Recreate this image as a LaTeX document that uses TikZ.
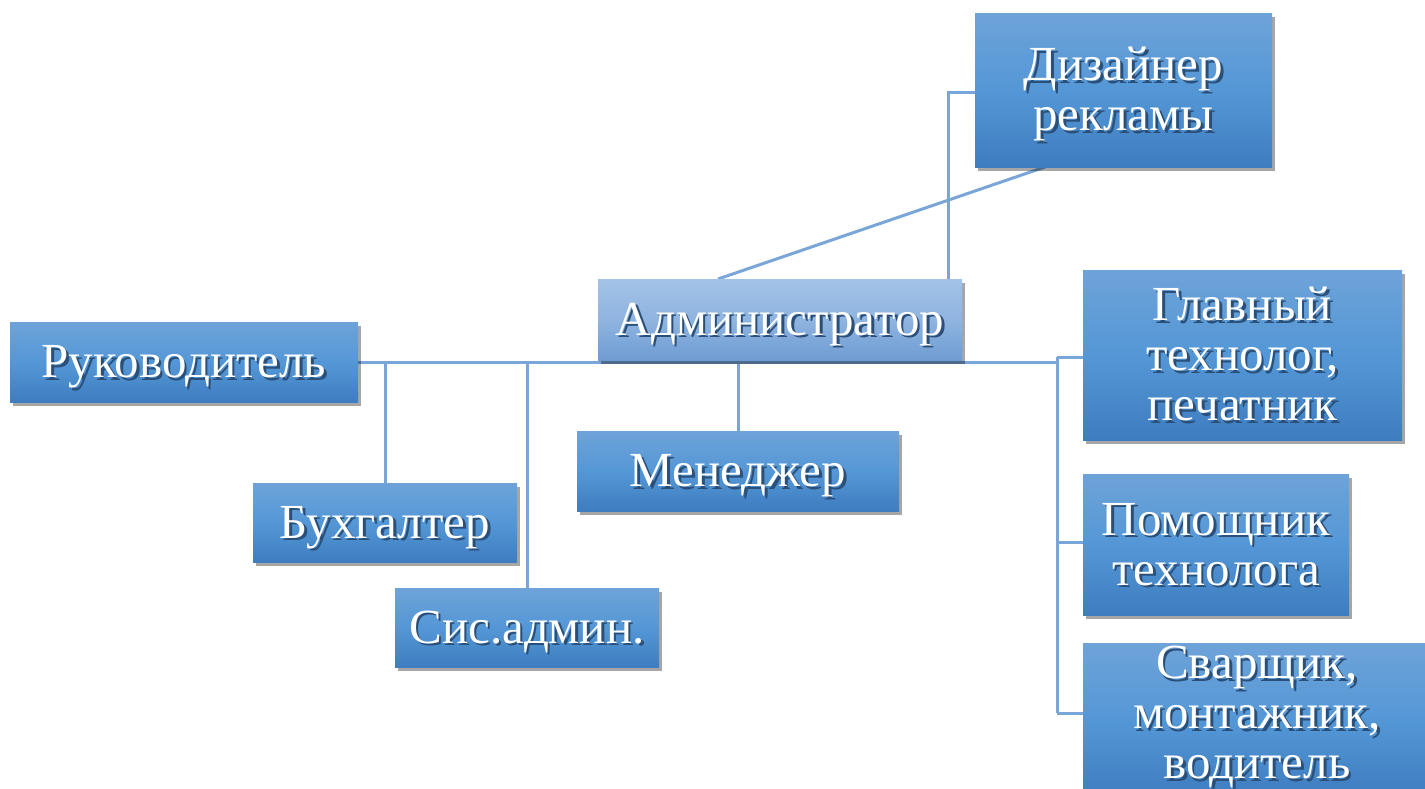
\documentclass[tikz,border=0pt]{standalone}
\usepackage{fontspec}
\setmainfont{Liberation Serif}
\usetikzlibrary{shadows,backgrounds}
\definecolor{lnc}{HTML}{79A5D8}
\definecolor{boxtop}{HTML}{6EA3D9}
\definecolor{boxmid}{HTML}{5497D6}
\definecolor{boxbot}{HTML}{3E7DC0}
\definecolor{admtop}{HTML}{A3C2E7}
\definecolor{admmid}{HTML}{8FB4E0}
\definecolor{admbot}{HTML}{6F9CD2}
\definecolor{txtsh}{HTML}{2A4F78}
\newcommand\shtxt[2][-3.5pt]{\raisebox{#1}[\height][\depth]{\leavevmode\rlap{\kern1.3pt\raisebox{-1.3pt}{\color{txtsh}\begin{tabular}{@{}c@{}}#2\end{tabular}}}\begin{tabular}{@{}c@{}}#2\end{tabular}}}
\tikzset{
  orgbox/.style={draw=none, top color=boxtop, bottom color=boxbot, middle color=boxmid,
    text=white, font=\fontsize{24.5}{25}\selectfont, align=center, inner sep=0pt,
    drop shadow={shadow xshift=1.5pt, shadow yshift=-2.2pt, opacity=0.35, fill=black}},
  admbox/.style={orgbox, top color=admtop, bottom color=admbot, middle color=admmid},
  conn/.style={draw=lnc, line width=1.5pt}
}
\begin{document}
\begin{tikzpicture}[x=0.5pt,y=-0.5pt]
\useasboundingbox (0,0) rectangle (1425,788);
% nodes
\node[orgbox, minimum width=148.5pt, minimum height=77pt] (des) at (1123.5,90) {\shtxt{Дизайнер\\рекламы}};
\node[admbox, minimum width=182pt, minimum height=40.5pt] (adm) at (780,319.5) {\shtxt{Администратор}};
\node[orgbox, minimum width=174pt, minimum height=40pt] (ruk) at (184,362) {\shtxt{Руководитель}};
\node[orgbox, minimum width=132pt, minimum height=39.5pt] (buh) at (385,522.5) {\shtxt{Бухгалтер}};
\node[orgbox, minimum width=132pt, minimum height=39.5pt] (sis) at (527,627.5) {\shtxt{Сис.админ.}};
\node[orgbox, minimum width=161pt, minimum height=40pt] (men) at (738,471) {\shtxt{Менеджер}};
\node[orgbox, minimum width=159.5pt, minimum height=85pt] (gl) at (1242.5,355) {\shtxt{Главный\\технолог,\\печатник}};
\node[orgbox, minimum width=133pt, minimum height=70.5pt] (pom) at (1216,544.5) {\shtxt{Помощник\\технолога}};
\node[orgbox, minimum width=174pt, minimum height=72pt] (sv) at (1257,720) {\shtxt[0pt]{Сварщик,\\монтажник,\\водитель}};
% junction coordinates
\coordinate (rj) at (1057,362);
\coordinate (rtop) at (1057,357);
\coordinate (rmid) at (1057,542);
\coordinate (rbot) at (1057,713);
\coordinate (dj) at (948,92);
\coordinate (da) at (718,279);
\coordinate (db) at (1045,167);
% connectors (drawn behind boxes)
\begin{scope}[on background layer]
\draw[conn] (ruk.east) -- (rj);
\draw[conn] (rtop) -- (rbot);
\draw[conn] (rtop) -- (gl.west |- rtop);
\draw[conn] (rmid) -- (pom.west |- rmid);
\draw[conn] (rbot) -- (sv.west |- rbot);
\draw[conn] (buh.north) -- (buh.north |- rj);
\draw[conn] (sis.north) -- (sis.north |- rj);
\draw[conn] (men.north) -- (adm.south -| men.north);
\draw[conn] (adm.north -| dj) -- (dj) -- (des.west |- dj);
\draw[conn] (da) -- (db);
\end{scope}
\end{tikzpicture}
\end{document}
